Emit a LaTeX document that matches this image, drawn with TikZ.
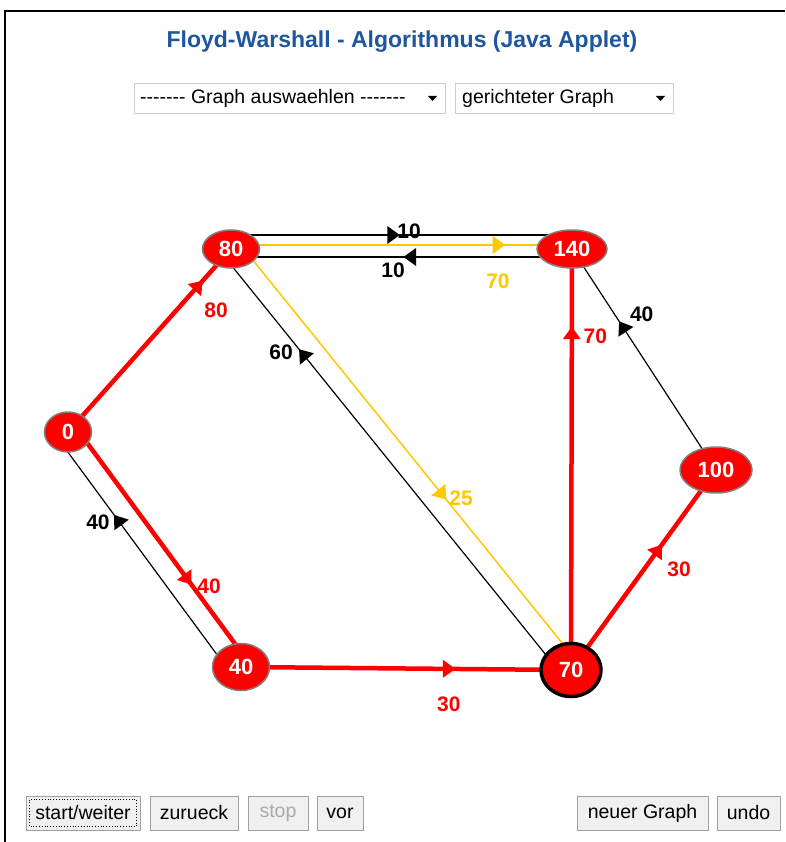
\documentclass[tikz,border=0pt]{standalone}
\usepackage{fontspec}
\setmainfont{Liberation Sans}
\usetikzlibrary{calc,backgrounds,shapes.geometric,decorations.markings}

\definecolor{nodered}{RGB}{255,0,0}
\definecolor{pathyellow}{RGB}{255,200,0}
\definecolor{titleblue}{RGB}{31,86,156}
\definecolor{btnfill}{RGB}{240,240,240}
\definecolor{btnedge}{RGB}{160,160,160}
\definecolor{boxedge}{RGB}{205,205,205}
\definecolor{greytext}{RGB}{170,170,170}

% single hyphens kept apart so they never merge into dashes
\newcommand\hy{\mbox{-}}
\newcommand\hyrow{\hy\hy\hy\hy\hy\hy\hy}

\begin{document}
\begin{tikzpicture}[x=1pt,y=1pt,
  vertex/.style={ellipse, fill=nodered, draw=gray, line width=1.5pt, text=white,
    font=\fontsize{22}{22}\selectfont\bfseries, inner sep=0pt},
  current/.style={draw=black, line width=3.5pt},
  headat/.style 2 args={postaction={decorate}, decoration={markings,
    mark=at position #1 with {\fill[#2] (-6,-9) -- (6.5,0) -- (-6,9) -- cycle;}}},
  heavy/.style={draw=nodered, line width=4.5pt},
  plain/.style={draw=black, line width=1.2pt},
  marked/.style={draw=pathyellow, line width=1.5pt},
  wlabel/.style={font=\fontsize{21}{21}\selectfont\bfseries, inner sep=0pt},
  uitext/.style={font=\fontsize{19.5}{19.5}\selectfont, inner sep=0pt},
  dropbox/.style={draw=boxedge, fill=white, line width=1pt, minimum height=30, inner sep=0pt},
  btn/.style={draw=btnedge, fill=btnfill, line width=1pt, minimum height=34, inner sep=0pt,
    font=\fontsize{19.5}{19.5}\selectfont},
]
\useasboundingbox (0,0) rectangle (785,-842);

% frame
\draw[line width=1.5pt] (5,-842) -- (5,-11) -- (785,-11);

% heading and selectors
\node[font=\fontsize{23}{23}\selectfont\bfseries, text=titleblue] (title) at (402,-42)
  {Floyd-Warshall - Algorithmus (Java Applet)};

\node[dropbox, minimum width=311, anchor=north west] (sel1) at (134,-83) {};
\node[uitext, anchor=west] (sel1txt) at ([xshift=6]sel1.west) {\hyrow{} Graph auswaehlen \hyrow};
\fill ($(sel1.east)+(-18,2.5)$) -- ++(9,0) -- ++(-4.5,-5) -- cycle;

\node[dropbox, minimum width=218, anchor=north west] (sel2) at (455,-83) {};
\node[uitext, anchor=west] (sel2txt) at ([xshift=7]sel2.west) {gerichteter Graph};
\fill ($(sel2.east)+(-18,2.5)$) -- ++(9,0) -- ++(-4.5,-5) -- cycle;

% vertices
\node[vertex, minimum width=47, minimum height=40] (n0) at (68,-432) {0};
\node[vertex, minimum width=57, minimum height=38] (n80) at (231,-249) {80};
\node[vertex, minimum width=70, minimum height=38] (n140) at (572,-249) {140};
\node[vertex, minimum width=72, minimum height=46] (n100) at (716,-470) {100};
\node[vertex, minimum width=57, minimum height=47] (n40) at (241,-667) {40};
\node[vertex, current, minimum width=60, minimum height=53] (n70) at (571,-670) {70};

% edges, drawn beneath the vertices
\begin{pgfonlayer}{background}
\fill[white] (0,0) rectangle (785,-842);

\draw[heavy, headat={0.80}{nodered}] (n0.center) -- (n80.center)
  node[wlabel, text=nodered, pos=0.80, shift={(17.6,-24.4)}] {80};
\draw[heavy, headat={0.65}{nodered}] ([shift={(7.2,5.3)}]n0.center) -- ([shift={(7.2,5.3)}]n40.center)
  node[wlabel, text=nodered, pos=0.65, shift={(21.4,-6.5)}] {40};
\draw[plain, headat={0.655}{black}] ([shift={(-9.7,-7.1)}]n40.center) -- ([shift={(-9.7,-7.1)}]n0.center)
  node[wlabel, pos=0.655, shift={(-20,-1.8)}] {40};

\draw[plain, headat={0.476}{black}] ([yshift=14]n80.center) -- ([yshift=14]n140.center)
  node[wlabel, pos=0.476, shift={(15.7,4)}] {10};
\draw[marked, headat={0.785}{pathyellow}] ([yshift=4]n80.center) -- ([yshift=4]n140.center)
  node[wlabel, text=pathyellow, pos=0.785, shift={(-0.7,-36)}] {70};
\draw[plain, headat={0.475}{black}] ([yshift=-8]n140.center) -- ([yshift=-8]n80.center)
  node[wlabel, pos=0.475, shift={(-17,-13)}] {10};

\draw[plain, headat={0.765}{black}] ([shift={(-7.8,-6.3)}]n70.center) -- ([shift={(-7.8,-6.3)}]n80.center)
  node[wlabel, pos=0.765, shift={(-22,2.2)}] {60};
\draw[marked, headat={0.598}{pathyellow}] ([shift={(7.8,6.3)}]n80.center) -- ([shift={(7.8,6.3)}]n70.center)
  node[wlabel, text=pathyellow, pos=0.598, shift={(19,-3.5)}] {25};

\draw[heavy, headat={0.80}{nodered}] (n70.center) -- (n140.center)
  node[wlabel, text=nodered, pos=0.80, shift={(23.5,-2.8)}] {70};
\draw[plain, headat={0.648}{black}] (n100.center) -- (n140.center)
  node[wlabel, pos=0.648, shift={(19,12.8)}] {40};
\draw[heavy, headat={0.60}{nodered}] (n70.center) -- (n100.center)
  node[wlabel, text=nodered, pos=0.60, shift={(21,-19)}] {30};
\draw[heavy, headat={0.63}{nodered}] (n40.center) -- (n70.center)
  node[wlabel, text=nodered, pos=0.63, shift={(0,-35)}] {30};
\end{pgfonlayer}

% control buttons
\node[btn, minimum width=114] (bstart) at (83,-813) {start/weiter};
\draw[dotted, line width=0.8pt] ([shift={(4,-4)}]bstart.north west) rectangle ([shift={(-4,4)}]bstart.south east);
\node[btn, minimum width=88] (bback) at (194,-813) {zurueck};
\node[btn, minimum width=60, text=greytext] (bstop) at (278,-813) {stop};
\node[btn, minimum width=46] (bfwd) at (340,-813) {vor};
\node[btn, minimum width=131] (bnew) at (642.5,-813) {neuer Graph};
\node[btn, minimum width=63] (bundo) at (748.5,-813) {undo};
\end{tikzpicture}
\end{document}
